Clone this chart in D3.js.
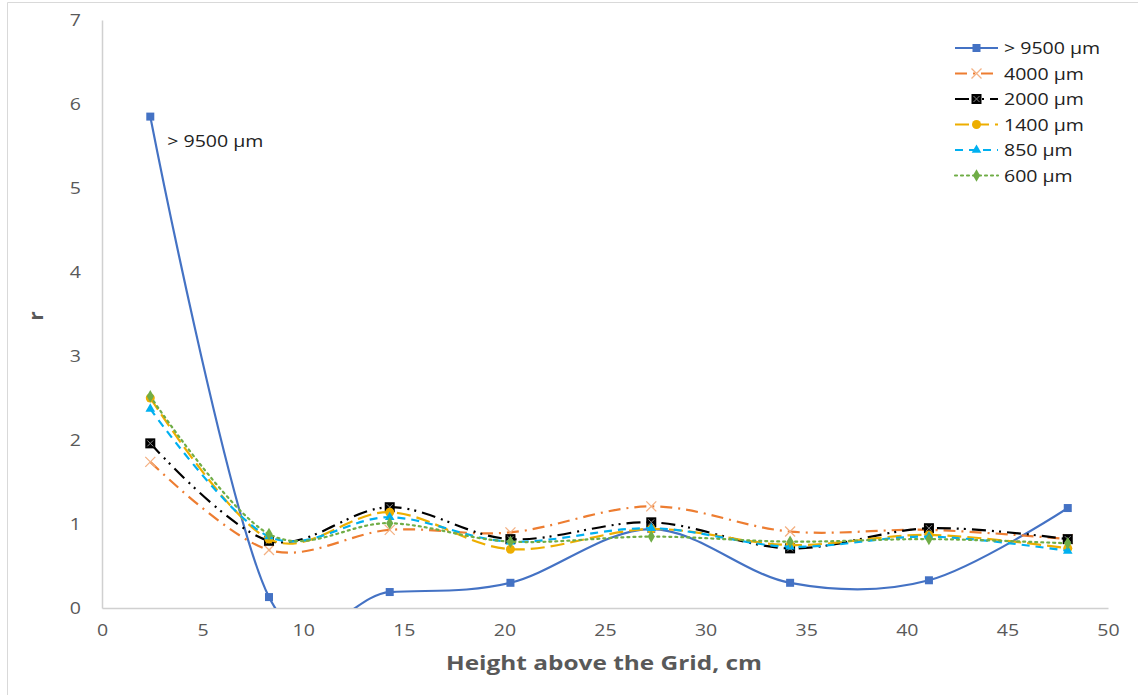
<!DOCTYPE html>
<html>
<head>
<meta charset="utf-8">
<script src="https://cdn.jsdelivr.net/npm/d3@7"></script>
<style>
  body { margin: 0; background: #fff; }
  text { font-family: "Open Sans", "Liberation Sans", sans-serif; }
</style>
</head>
<body>
<div id="chart"></div>
<script>
// heights above the grid (cm)
var heights = [2.4, 8.3, 14.3, 20.3, 27.3, 34.2, 41.1, 48.0];

var seriesNames = ["> 9500 µm", "4000 µm", "2000 µm", "1400 µm", "850 µm", "600 µm"];
var r9500 = [5.85, 0.13, 0.19, 0.30, 0.94, 0.30, 0.33, 1.19];
var r4000 = [1.74, 0.69, 0.93, 0.90, 1.21, 0.91, 0.93, 0.82];
var r2000 = [1.96, 0.80, 1.20, 0.82, 1.02, 0.71, 0.95, 0.82];
var r1400 = [2.50, 0.82, 1.14, 0.70, 0.94, 0.75, 0.87, 0.71];
var r850  = [2.37, 0.85, 1.08, 0.79, 0.95, 0.73, 0.85, 0.68];
var r600  = [2.52, 0.88, 1.01, 0.79, 0.85, 0.79, 0.82, 0.77];

var xTicks = [0, 5, 10, 15, 20, 25, 30, 35, 40, 45, 50];
var yTicks = [0, 1, 2, 3, 4, 5, 6, 7];

var width = 1138, height = 695;
var margin = {left: 102, right: 30, top: 20, bottom: 87};

var styles = [
  {color: "#4472C4", dash: null, marker: "square"},
  {color: "#ED7D31", dash: "12,6,2,6", marker: "x"},
  {color: "#000000", dash: "14,6,2,5,2,6", marker: "hatch"},
  {color: "#EDAE00", dash: "14,6", marker: "circle"},
  {color: "#00B0F0", dash: "8,6", marker: "triangle"},
  {color: "#70AD47", dash: "2,4", marker: "diamond"}
];
var allValues = [r9500, r4000, r2000, r1400, r850, r600];

// the original text is drawn wide, stretch it horizontally
function stretch(sel) {
  sel.each(function () {
    var len = this.getComputedTextLength();
    d3.select(this).attr('textLength', len * 1.22).attr('lengthAdjust', 'spacingAndGlyphs');
  });
}

var svg = d3.select('#chart')
    .append('svg')
    .attr('width', width)
    .attr('height', height);

// chart border
svg.append('path')
    .attr('d', 'M7.5,' + height + 'V2.5H' + width)
    .attr('fill', 'none')
    .attr('stroke', '#d9d9d9');

var x = d3.scaleLinear().domain([0, 50]).range([margin.left, width - margin.right]);
var y = d3.scaleLinear().domain([0, 7]).range([height - margin.bottom, margin.top]);

svg.append('clipPath').attr('id', 'plotclip')
  .append('rect')
    .attr('x', x(0)).attr('y', y(7))
    .attr('width', x(50) - x(0)).attr('height', y(0) - y(7));

// axes
var xAxis = svg.append('g')
    .attr('transform', 'translate(0,' + y(0) + ')')
    .call(d3.axisBottom(x).tickValues(xTicks).tickSize(0).tickPadding(17));
var yAxis = svg.append('g')
    .attr('transform', 'translate(' + x(0) + ',0)')
    .call(d3.axisLeft(y).tickValues(yTicks).tickFormat(d3.format('d')).tickSize(0).tickPadding(21));
[xAxis, yAxis].forEach(function (a) {
  a.select('.domain').attr('stroke', '#d0d0d0').attr('stroke-width', 1.5);
  a.selectAll('text')
      .attr('fill', '#595959')
      .style('font-size', '16px')
      .style('font-family', '"Open Sans", sans-serif')
      .call(stretch);
});

// axis titles
svg.append('text')
    .attr('x', 604).attr('y', 670)
    .attr('text-anchor', 'middle')
    .attr('fill', '#595959')
    .style('font-size', '20px')
    .style('font-weight', 'bold')
    .text('Height above the Grid, cm')
    .call(stretch);
svg.append('text')
    .attr('transform', 'translate(43,316) rotate(-90)')
    .attr('text-anchor', 'middle')
    .attr('fill', '#595959')
    .style('font-size', '20px')
    .style('font-weight', 'bold')
    .text('r');

function drawMarker(g, kind, color, cx, cy) {
  if (kind === 'square') {
    g.append('rect').attr('x', cx - 4).attr('y', cy - 4).attr('width', 8).attr('height', 8)
        .attr('fill', color);
  } else if (kind === 'x') {
    g.append('path').attr('d', 'M' + (cx - 5) + ',' + (cy - 5) + 'L' + (cx + 5) + ',' + (cy + 5) +
        'M' + (cx + 5) + ',' + (cy - 5) + 'L' + (cx - 5) + ',' + (cy + 5))
        .attr('stroke', '#F4B183').attr('stroke-width', 1.3).attr('fill', 'none');
  } else if (kind === 'hatch') {
    g.append('rect').attr('x', cx - 5).attr('y', cy - 5).attr('width', 10).attr('height', 10)
        .attr('fill', '#000');
    g.append('path').attr('d', 'M' + (cx - 3) + ',' + (cy - 3) + 'L' + (cx + 3) + ',' + (cy + 3) +
        'M' + (cx + 3) + ',' + (cy - 3) + 'L' + (cx - 3) + ',' + (cy + 3))
        .attr('stroke', '#888').attr('stroke-width', 1);
  } else if (kind === 'circle') {
    g.append('circle').attr('cx', cx).attr('cy', cy).attr('r', 4.5).attr('fill', color);
  } else if (kind === 'triangle') {
    g.append('path').attr('d', d3.symbol(d3.symbolTriangle, 40)())
        .attr('transform', 'translate(' + cx + ',' + cy + ')').attr('fill', color);
  } else if (kind === 'diamond') {
    g.append('path').attr('d', d3.symbol(d3.symbolDiamond, 45)())
        .attr('transform', 'translate(' + cx + ',' + cy + ')').attr('fill', color);
  }
}

var line = d3.line()
    .x(function (d) { return x(d[0]); })
    .y(function (d) { return y(d[1]); })
    .curve(d3.curveCardinal.tension(0));

var plot = svg.append('g');
allValues.forEach(function (vals, i) {
  var pts = heights.map(function (h, j) { return [h, vals[j]]; });
  var s = styles[i];
  var g = plot.append('g');
  g.append('path')
      .datum(pts)
      .attr('d', line)
      .attr('clip-path', 'url(#plotclip)')
      .attr('fill', 'none')
      .attr('stroke', s.color)
      .attr('stroke-width', 2.2)
      .attr('stroke-linecap', s.marker === 'diamond' ? 'round' : 'butt')
      .attr('stroke-dasharray', s.dash);
  pts.forEach(function (p) {
    drawMarker(g, s.marker, s.color, x(p[0]), y(p[1]));
  });
});

// data label on first point
svg.append('text')
    .attr('x', x(heights[0]) + 17).attr('y', y(r9500[0]) + 30)
    .attr('fill', '#222')
    .style('font-size', '16px')
    .text('> 9500 µm')
    .call(stretch);

// legend
var legend = svg.selectAll('.legend')
    .data(seriesNames)
    .enter()
    .append('g')
    .attr('class', 'legend')
    .attr('transform', function (d, i) {
      return 'translate(955,' + (48 + i * 25.5) + ')';
    });
legend.each(function (d, i) {
  var g = d3.select(this);
  var s = styles[i];
  g.append('line')
      .attr('x1', 0).attr('x2', 43).attr('y1', 0).attr('y2', 0)
      .attr('stroke', s.color).attr('stroke-width', 2.2)
      .attr('stroke-linecap', s.marker === 'diamond' ? 'round' : 'butt')
      .attr('stroke-dasharray', s.dash);
  drawMarker(g, s.marker, s.color, 21.5, 0);
  g.append('text')
      .attr('x', 49).attr('y', 6)
      .attr('fill', '#222')
      .style('font-size', '16px')
      .text(d)
      .call(stretch);
});
</script>
</body>
</html>
